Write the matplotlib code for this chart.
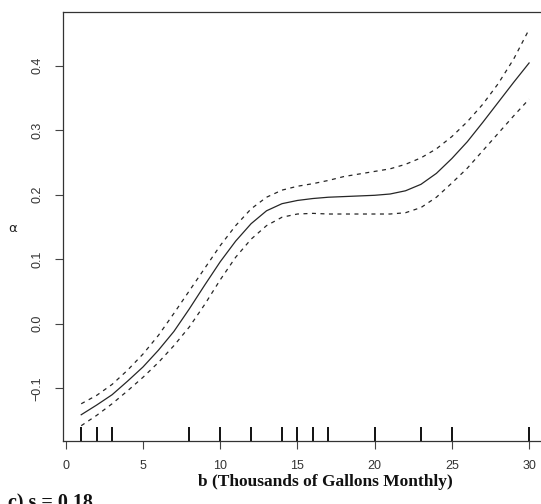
import numpy as np
import matplotlib
matplotlib.use("Agg")
import matplotlib.pyplot as plt
import matplotlib.transforms as mtransforms

# Smooth term for monthly water use, with pointwise confidence bands
usage = [1, 2, 3, 4, 5, 6, 7, 8, 9, 10, 11, 12, 13, 14, 15,
         16, 17, 18, 19, 20, 21, 22, 23, 24, 25, 26, 27, 28, 29, 30]
fit = [-0.141, -0.126, -0.110, -0.089, -0.067, -0.041, -0.012, 0.023, 0.060, 0.096,
       0.128, 0.155, 0.175, 0.186, 0.191, 0.194, 0.196, 0.197, 0.198, 0.199,
       0.201, 0.206, 0.216, 0.233, 0.256, 0.282, 0.312, 0.343, 0.374, 0.404]
upper = [-0.124, -0.111, -0.094, -0.072, -0.047, -0.018, 0.016, 0.051, 0.086, 0.121,
         0.152, 0.178, 0.196, 0.207, 0.213, 0.217, 0.222, 0.228, 0.232, 0.236,
         0.240, 0.247, 0.257, 0.271, 0.290, 0.313, 0.340, 0.372, 0.410, 0.456]
lower = [-0.158, -0.142, -0.124, -0.104, -0.083, -0.060, -0.034, -0.005, 0.030, 0.068,
         0.103, 0.131, 0.152, 0.165, 0.170, 0.171, 0.170, 0.170, 0.170, 0.170,
         0.170, 0.172, 0.180, 0.196, 0.218, 0.241, 0.268, 0.295, 0.322, 0.348]

# Observed usage values shown as a rug
observed = [1, 2, 3, 8, 10, 12, 14, 15, 16, 17, 20, 23, 25, 30]

x_ticks = [0, 5, 10, 15, 20, 25, 30]
y_ticks = [-0.1, 0.0, 0.1, 0.2, 0.3, 0.4]
y_ticklabels = ["\u22120.1", "0.0", "0.1", "0.2", "0.3", "0.4"]

W, H = 541, 504
fig = plt.figure(figsize=(W / 100, H / 100), dpi=100)
fig.patch.set_facecolor("white")

left, right, top, bottom = 63.3, 547.0, 12.0, 441.0
ax = fig.add_axes([left / W, 1 - bottom / H, (right - left) / W, (bottom - top) / H])

ink = "#262626"
ax.plot(usage, fit, color=ink, lw=0.9, solid_joinstyle="round")
ax.plot(usage, upper, color=ink, lw=0.9, linestyle=(0, (3.2, 3.6)))
ax.plot(usage, lower, color=ink, lw=0.9, linestyle=(0, (3.2, 3.6)))

trans = mtransforms.blended_transform_factory(ax.transData, ax.transAxes)
ax.vlines(observed, 0, 14.5 / (bottom - top), transform=trans, color="#111111", lw=1.4)

ax.set_xlim(-0.16, 31.16)
ax.set_ylim(-0.1817, 0.483)

ax.set_xticks(x_ticks)
ax.set_yticks(y_ticks)
ax.set_yticklabels(y_ticklabels)

for s in ax.spines.values():
    s.set_color("#333333")
    s.set_linewidth(0.9)

ax.tick_params(axis="both", direction="out", length=6, width=0.8, color="#444444",
               labelcolor="#333333", labelsize=9)
ax.tick_params(axis="x", pad=7.5)
ax.tick_params(axis="y", pad=8)
for lab in ax.get_yticklabels():
    lab.set_rotation(90)
    lab.set_va("center")
    lab.set_family("Liberation Sans")
for lab in ax.get_xticklabels():
    lab.set_family("Liberation Sans")

fig.text(13 / W, 1 - 229 / H, "\u03b1", ha="center", va="center", fontsize=9.5,
         family="DejaVu Sans", color="#222222")

fig.text(325.7 / W, 1 - 482 / H, "b (Thousands of Gallons Monthly)", ha="center",
         va="center", fontsize=12.5, fontweight="bold", family="Liberation Serif",
         color="#111111")

fig.text(8 / W, 1 - 508 / H, "c) s = 0.18", ha="left", va="baseline", fontsize=14.5,
         fontweight="bold", family="Liberation Serif", color="#111111")

fig.savefig("out.png", dpi=100, facecolor="white")
